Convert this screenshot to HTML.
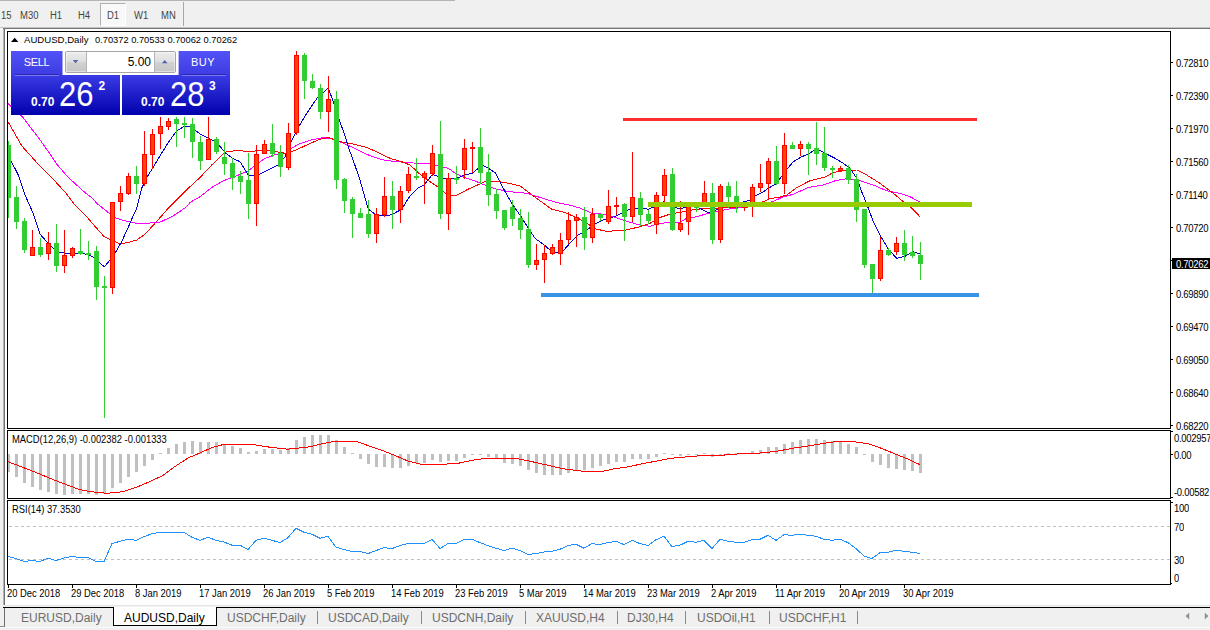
<!DOCTYPE html>
<html><head><meta charset="utf-8"><title>AUDUSD,Daily</title>
<style>
html,body{margin:0;padding:0;}
body{width:1210px;height:630px;overflow:hidden;background:#f0f0f0;position:relative;font-family:"Liberation Sans",sans-serif;color:#000;}
div{position:absolute;box-sizing:border-box;white-space:nowrap;}
svg{position:absolute;left:0;top:0;}
.ax{left:1176px;font-size:9.5px;letter-spacing:-0.3px;line-height:12px;height:12px;transform:scaleY(1.12);transform-origin:0 3px;}
.dt{top:587px;font-size:9.4px;line-height:12px;margin-left:-1px;transform:scaleY(1.15);transform-origin:0 3px;}
.tf{top:9px;font-size:9.5px;line-height:14px;color:#444;transform:scaleY(1.12);transform-origin:0 10px;}
.tab{top:610px;font-size:12px;line-height:16px;color:#6e6e6e;}
.tab.act{color:#000;}
.sep{top:611px;width:1px;height:13px;background:#8a8a8a;}
.big{top:73.500px;color:#fff;font-size:31px;line-height:36px;transform:scaleY(1.13);transform-origin:0 0;}
.pl{font-size:9.4px;line-height:12px;left:12px;transform:scaleY(1.15);transform-origin:0 3px;}
</style></head><body>
<!-- top toolbar -->
<div style="left:0;top:0;width:455px;height:1px;background:#b4b4b4"></div>
<div style="left:100px;top:3px;width:26px;height:23px;background:#f8f8f8;border-left:1px solid #b0b0b0;border-top:1px solid #b0b0b0;border-right:1px solid #fff;border-bottom:1px solid #fff"></div>
<div style="left:183px;top:2px;width:1px;height:24px;background:#a8a8a8"></div>
<div class="tf" style="left:1px">15</div><div class="tf" style="left:20px">M30</div><div class="tf" style="left:50px">H1</div><div class="tf" style="left:78px">H4</div><div class="tf" style="left:107px">D1</div><div class="tf" style="left:134px">W1</div><div class="tf" style="left:161px">MN</div>
<div style="left:0;top:27px;width:1210px;height:1px;background:#c4c4c4"></div>
<div style="left:3px;top:28px;width:1207px;height:1px;background:#747474"></div><div style="left:0;top:28px;width:3px;height:1px;background:#fafafa"></div>
<!-- window white area -->
<div style="left:5px;top:29px;width:1205px;height:576px;background:#fff"></div>
<div style="left:3px;top:29px;width:1px;height:576px;background:#b4b4b4"></div><div style="left:4px;top:28px;width:1px;height:577px;background:#707070"></div>
<div style="left:5px;top:605px;width:1205px;height:1px;background:#e6e6e6"></div>
<!-- panels borders -->
<div style="left:7px;top:31px;width:1164px;height:398px;border:1px solid #000"></div>
<div style="left:7px;top:430px;width:1164px;height:69px;border:1px solid #000"></div>
<div style="left:7px;top:500px;width:1164px;height:85px;border:1px solid #000"></div>
<svg width="1210" height="630" viewBox="0 0 1210 630">
<defs><clipPath id="c1"><rect x="8" y="32" width="1162" height="396"/></clipPath>
<clipPath id="c2"><rect x="8" y="431" width="1162" height="67"/></clipPath>
<clipPath id="c3"><rect x="8" y="501" width="1162" height="83"/></clipPath>
<linearGradient id="gb" x1="0" y1="0" x2="0" y2="1"><stop offset="0" stop-color="#3c3ce6"/><stop offset="1" stop-color="#0000ac"/></linearGradient>
<linearGradient id="gt" x1="0" y1="0" x2="0" y2="1"><stop offset="0" stop-color="#5252f6"/><stop offset="1" stop-color="#3c3ce2"/></linearGradient>
<linearGradient id="gs" x1="0" y1="0" x2="0" y2="1"><stop offset="0" stop-color="#ececec"/><stop offset="0.5" stop-color="#dedede"/><stop offset="0.5" stop-color="#d2d2d2"/><stop offset="1" stop-color="#c6c6c6"/></linearGradient>
</defs>
<g clip-path="url(#c1)"><polyline points="8,103.5 22.5,117 38.3,137.5 50,154 56.7,164 67.5,176.7 84,191.7 93.3,199 96.7,203.3 108.3,212.5 116.7,218.3 126.7,221.3 136.7,223.3 146.7,223.3 160,222.2 173.3,215.8 186.7,206.7 190,202.5 200,196.7 211.7,187.5 223.3,180.8 236.7,175.8 248.3,170.8 256.7,164.2 265,158.3 276.7,154.2 285.8,153.3 290,149.5 298.3,144.2 310,140.3 321.7,137.8 331.7,138.3 343.3,143.3 356.7,149.2 370,155.8 381.7,159.7 396.7,161.7 413.3,163 430,163.7 438.3,165.8 448.3,168.3 456.7,174.2 466.7,178.3 476.7,181.7 486.7,185.8 496.7,189.2 510,191.7 526.7,193.3 540,197.5 556.7,202.5 570,205.3 580,208 591.7,213.3 603.3,214.2 613.3,216.7 626.7,221.3 640,225 650,226.3 660,223.3 670,222.5 678.3,223 686.7,218.3 696.7,216.7 708.3,213.3 720,210.8 730,208.8 746.7,207.2 760,204 772.5,201.7 781.7,197.5 793.3,194.2 808.3,187.5 823.3,185 835,180.8 846.7,178.7 860,180.8 873.3,185 886.7,190.8 900,193.3 910,196.7 920,202" fill="none" stroke="#ff00ff" stroke-width="1" stroke-linejoin="round" shape-rendering="crispEdges"/><polyline points="8,121.7 21.7,145.8 36.7,162.5 51.7,177.5 66.7,194 75,205 86.7,216.7 96.7,228.3 104.2,236.7 110.8,240 120,243.8 128.3,242.5 136.7,240 145,234.2 155,223.3 166.7,210 180.8,195.5 190,186.7 200,177.5 211.7,165 225,152.2 238.3,150.3 248.3,151.7 256.7,150.8 265,149.7 276.7,151.7 285,153.3 291.7,151.7 298.3,149 306.7,145 320,139.2 328.3,137.5 340,141.7 350,143.3 366.7,147.5 378.3,152.5 390,158.3 401.7,161.7 410,165 420,174.2 430,181.7 440,188.3 448.3,195.8 455.8,195.5 470,188.3 485,181.7 496.7,181.2 508.3,183.3 520,185.8 530,193.3 540,200.8 551.7,209.2 563.3,212 571.7,215.5 578.3,218.3 586.7,223.3 596.7,229.2 606.7,231.3 625,230.3 640,226.7 650,223.3 660,217.5 670,214.2 683.3,211.7 696.7,209.2 710,208.3 720,208 736.7,207.2 750,204.5 763.3,201.7 770,198.5 778.3,197.5 786.7,195 796.7,187.5 810,180.8 825,177 833.3,172.5 843.3,170.8 856.7,170 866.7,175 880,183.3 893.3,193.3 903.3,201.7 906.7,203.3 920,216.7" fill="none" stroke="#ff0000" stroke-width="1" stroke-linejoin="round" shape-rendering="crispEdges"/><polyline points="8,156.7 11,160.8 18.3,175 25,195 33.3,213.5 40,234.2 48.3,243.3 54.2,249.2 59.2,252.5 66.7,253.3 78.3,253.3 86.7,254.2 94.2,257.5 100,263.3 104.5,266.7 110,260 115,253.3 121.7,241.7 130,223.3 134,214 136.7,208.3 141.7,188.3 146.7,177.5 152.5,168.3 160,155.8 168.3,142.5 176.7,130.8 185,126 191.7,126.7 195,130 200,134 208.3,138 216.7,142.3 225,152.5 232.5,158.3 240,161.7 248.3,175 256.7,175.5 265,171.7 278.3,165 285,156.7 290,144 298.3,127.5 306.7,113.3 317.5,97.5 328.3,88 334.2,104.2 339.2,120 344.5,134 348.3,147 352.5,158.3 360,180 368.3,209.2 375,214.2 383.3,215.8 390,215 393.3,213.8 401.7,209.2 410,195.8 417.5,188.3 424.2,185 432.5,174.2 438.3,176.7 446.7,179.2 455,178.8 465,175 472.5,173 478.3,168.3 483.3,165.8 488.3,168.3 495.8,173.3 504.2,190 512.5,204.5 521.2,216.8 528.3,228.3 535,238.3 544.2,245 550,250 554.2,252.5 561.7,252.5 568.3,245 576.7,236 586.7,230 595,224.2 603.3,220 616.7,215.8 625,211.7 631.7,208.3 641.7,208.3 648.3,209.2 656,206 663.3,201.7 670,205 676.7,208 683.3,208 692,206.5 700,208.3 708.3,212.5 715,210.8 720,207.5 730,205 740,203 750,200 756.7,195 763.3,192 768.3,188.3 776.7,183.3 785,171.7 793.3,161.7 801.7,156.7 808.3,154.2 816.7,148.7 825,153.3 835,158.3 843.3,163.3 850,168.3 856.7,178.3 861.7,191.7 866.7,204 873.3,221.7 880,235 888.3,249.2 896.7,258.3 905,256.3 913.3,251.7 920.3,254.2" fill="none" stroke="#0000d0" stroke-width="1" stroke-linejoin="round" shape-rendering="crispEdges"/><path d="M8.5 141V218M16.5 186V229M24.5 218V253M40.5 238V257M56.5 224V272M80.5 229V255M88.5 241V260M96.5 246V300M104.5 276V418M136.5 166V194M176.5 117V147M184.5 117V138M192.5 118V158M200.5 136V170M216.5 137V154M224.5 142V175M232.5 158V190M240.5 171V194M248.5 153V219M272.5 124V157M280.5 145V177M304.5 53V99M312.5 74V89M320.5 84V119M336.5 91V189M344.5 178V213M352.5 197V238M360.5 208V218M368.5 200V238M392.5 181V229M416.5 158V180M440.5 121V219M456.5 166V184M480.5 128V184M488.5 154V206M496.5 189V219M504.5 210V230M512.5 200V226M520.5 209V239M528.5 212V268M584.5 207V250M600.5 214V221M624.5 203V241M640.5 192V226M648.5 210V224M672.5 168V231M696.5 203V212M712.5 183V244M728.5 182V208M736.5 181V213M776.5 146V185M792.5 142V149M808.5 142V175M816.5 122V165M824.5 127V171M832.5 166V178M848.5 165V184M856.5 174V222M864.5 209V268M872.5 264V293M888.5 248V256M904.5 230V261M912.5 236V258M920.5 242V280" stroke="#32cd32" stroke-width="1" fill="none" shape-rendering="crispEdges"/><path d="M32.5 230V256M48.5 232V260M64.5 230V273M72.5 247V258M112.5 202V294M120.5 186V211M128.5 173V195M144.5 131V186M152.5 129V169M160.5 117V149M168.5 118V130M208.5 117V160M256.5 145V226M264.5 140V154M288.5 123V170M296.5 51V135M328.5 76V132M376.5 208V243M384.5 177V217M400.5 186V223M408.5 167V193M424.5 171V204M432.5 145V176M448.5 173V230M464.5 139V179M472.5 142V173M536.5 244V270M544.5 245V283M552.5 244V255M560.5 233V265M568.5 212V244M576.5 214V247M592.5 208V243M608.5 190V224M616.5 197V215M632.5 152V222M656.5 192V234M664.5 169V202M680.5 201V232M688.5 203V235M704.5 181V204M720.5 184V243M744.5 203V211M752.5 184V217M760.5 164V192M768.5 158V200M784.5 133V194M800.5 141V156M840.5 166V171M880.5 237V281M896.5 237V255" stroke="#ff0000" stroke-width="1" fill="none" shape-rendering="crispEdges"/><path d="M6 145h5v53h-5zM14 197h5v25h-5zM22 221h5v29h-5zM38 247h5v8h-5zM54 243h5v23h-5zM78 251h5v3h-5zM86 253h5v2h-5zM94 251h5v36h-5zM102 286h5v2h-5zM134 176h5v8h-5zM174 119h5v5h-5zM182 123h5v2h-5zM190 124h5v18h-5zM198 142h5v19h-5zM214 139h5v13h-5zM222 157h5v7h-5zM230 163h5v15h-5zM238 176h5v6h-5zM246 180h5v24h-5zM270 143h5v11h-5zM278 153h5v14h-5zM302 55h5v26h-5zM310 81h5v7h-5zM318 88h5v24h-5zM334 99h5v81h-5zM342 179h5v22h-5zM350 199h5v15h-5zM358 213h5v5h-5zM366 214h5v20h-5zM390 196h5v14h-5zM414 176h5v2h-5zM438 154h5v60h-5zM454 178h5v2h-5zM478 147h5v26h-5zM486 172h5v23h-5zM494 194h5v17h-5zM502 210h5v18h-5zM510 207h5v12h-5zM518 218h5v12h-5zM526 229h5v36h-5zM582 217h5v21h-5zM598 214h5v4h-5zM622 204h5v13h-5zM638 198h5v17h-5zM646 214h5v7h-5zM670 174h5v56h-5zM694 204h5v4h-5zM710 193h5v47h-5zM726 186h5v11h-5zM734 196h5v8h-5zM774 161h5v23h-5zM790 145h5v4h-5zM806 144h5v5h-5zM814 148h5v6h-5zM822 153h5v15h-5zM830 168h5v2h-5zM846 168h5v12h-5zM854 179h5v31h-5zM862 209h5v56h-5zM870 264h5v15h-5zM886 250h5v5h-5zM902 243h5v12h-5zM910 252h5v4h-5zM918 255h5v9h-5z" fill="#32cd32" shape-rendering="crispEdges"/><path d="M30.5 247.5h4v8h-4zM46.5 243.5h4v10h-4zM62.5 255.5h4v10h-4zM70.5 248.5h4v7h-4zM110.5 202.5h4v85h-4zM118.5 193.5h4v8h-4zM126.5 176.5h4v17h-4zM142.5 154.5h4v29h-4zM150.5 134.5h4v20h-4zM158.5 126.5h4v7h-4zM166.5 121.5h4v5h-4zM206.5 139.5h4v20h-4zM254.5 154.5h4v49h-4zM262.5 144.5h4v9h-4zM286.5 133.5h4v34h-4zM294.5 55.5h4v77h-4zM326.5 99.5h4v12h-4zM374.5 214.5h4v19h-4zM382.5 196.5h4v18h-4zM398.5 191.5h4v18h-4zM406.5 174.5h4v16h-4zM422.5 173.5h4v4h-4zM430.5 153.5h4v20h-4zM446.5 178.5h4v35h-4zM462.5 148.5h4v21h-4zM470.5 147.5h4v1h-4zM534.5 260.5h4v4h-4zM542.5 253.5h4v6h-4zM550.5 247.5h4v6h-4zM558.5 240.5h4v13h-4zM566.5 220.5h4v19h-4zM574.5 217.5h4v3h-4zM590.5 214.5h4v23h-4zM606.5 206.5h4v15h-4zM614.5 205.5h4v1h-4zM630.5 197.5h4v19h-4zM654.5 195.5h4v29h-4zM662.5 175.5h4v20h-4zM678.5 223.5h4v6h-4zM686.5 204.5h4v17h-4zM702.5 193.5h4v10h-4zM718.5 186.5h4v53h-4zM742.5 204.5h4v3h-4zM750.5 187.5h4v16h-4zM758.5 183.5h4v4h-4zM766.5 161.5h4v22h-4zM782.5 145.5h4v38h-4zM798.5 144.5h4v4h-4zM838.5 168.5h4v2h-4zM878.5 250.5h4v28h-4zM894.5 243.5h4v8h-4z" fill="#ff4500" stroke="#ff0000" stroke-width="1" shape-rendering="crispEdges"/><rect x="623" y="118" width="354" height="3" fill="#fc2f2f"/><rect x="648" y="202" width="324" height="5" fill="#99cc00"/><rect x="541" y="293" width="438" height="4" fill="#3a92e6"/></g>
<g clip-path="url(#c2)"><path d="M7 454h3v18h-3zM15 454h3v23h-3zM23 454h3v29h-3zM31 454h3v33h-3zM39 454h3v36h-3zM47 454h3v38h-3zM55 454h3v40h-3zM63 454h3v41h-3zM71 454h3v40h-3zM79 454h3v40h-3zM87 454h3v40h-3zM95 454h3v41h-3zM103 454h3v40h-3zM111 454h3v34h-3zM119 454h3v29h-3zM127 454h3v23h-3zM135 454h3v18h-3zM143 454h3v12h-3zM151 454h3v6h-3zM159 453h3v1h-3zM167 448h3v6h-3zM175 444h3v10h-3zM183 442h3v12h-3zM191 441h3v13h-3zM199 442h3v12h-3zM207 442h3v12h-3zM215 442h3v12h-3zM223 444h3v10h-3zM231 446h3v8h-3zM239 448h3v6h-3zM247 452h3v2h-3zM255 451h3v3h-3zM263 449h3v5h-3zM271 449h3v5h-3zM279 450h3v4h-3zM287 448h3v6h-3zM295 440h3v14h-3zM303 437h3v17h-3zM311 435h3v19h-3zM319 435h3v19h-3zM327 435h3v19h-3zM335 440h3v14h-3zM343 447h3v7h-3zM351 453h3v1h-3zM359 454h3v5h-3zM367 454h3v10h-3zM375 454h3v13h-3zM383 454h3v13h-3zM391 454h3v14h-3zM399 454h3v14h-3zM407 454h3v12h-3zM415 454h3v9h-3zM423 454h3v9h-3zM431 454h3v6h-3zM439 454h3v8h-3zM447 454h3v7h-3zM455 454h3v7h-3zM463 454h3v4h-3zM471 454h3v1h-3zM479 454h3v1h-3zM487 454h3v3h-3zM495 454h3v5h-3zM503 454h3v9h-3zM511 454h3v10h-3zM519 454h3v12h-3zM527 454h3v16h-3zM535 454h3v19h-3zM543 454h3v21h-3zM551 454h3v21h-3zM559 454h3v21h-3zM567 454h3v19h-3zM575 454h3v17h-3zM583 454h3v16h-3zM591 454h3v14h-3zM599 454h3v12h-3zM607 454h3v10h-3zM615 454h3v8h-3zM623 454h3v8h-3zM631 454h3v5h-3zM639 454h3v5h-3zM647 454h3v5h-3zM655 454h3v3h-3zM663 453h3v1h-3zM671 454h3v1h-3zM679 454h3v2h-3zM687 454h3v1h-3zM695 454h3v1h-3zM703 453h3v1h-3zM711 454h3v3h-3zM719 454h3v1h-3zM727 453h3v1h-3zM735 453h3v1h-3zM743 453h3v1h-3zM751 451h3v3h-3zM759 450h3v4h-3zM767 447h3v7h-3zM775 447h3v7h-3zM783 444h3v10h-3zM791 442h3v12h-3zM799 440h3v14h-3zM807 439h3v15h-3zM815 439h3v15h-3zM823 440h3v14h-3zM831 441h3v13h-3zM839 442h3v12h-3zM847 444h3v10h-3zM855 447h3v7h-3zM863 454h3v1h-3zM871 454h3v8h-3zM879 454h3v11h-3zM887 454h3v14h-3zM895 454h3v15h-3zM903 454h3v16h-3zM911 454h3v17h-3zM919 454h3v19h-3z" fill="#c0c0c0" shape-rendering="crispEdges"/><polyline points="7.9,461.7 23.8,467.7 39.7,474 55.6,480.6 71.4,486.5 79.4,489.5 87.3,491.1 97.2,492.5 105.2,493.1 115,492.9 125,491.1 136.9,487.1 148.8,482 162.7,475.6 174.6,466.7 188.5,457.8 200.4,452.8 212.3,447.4 224.2,444.3 251.8,444.3 269.7,447.2 287.5,449.2 297.5,448.2 309.4,446.8 321.3,443.9 333.2,441.5 357,441.5 368.9,445.9 384.8,451.4 396.7,456.2 408.6,461.3 420.5,464.1 442.3,464.3 458.2,463.3 471.9,460.3 485.8,458.4 515.6,458.4 527.5,460.7 539.4,463.3 551.3,466.1 563.2,468.7 575.1,470.3 583,471.3 602.9,471.3 614.8,468.7 628.7,466.7 642.5,463.7 658.4,460.7 670.3,458.4 682.2,457.2 694.1,456.4 701.9,455.4 723.7,455.2 727.7,454.2 747.5,453.8 763.4,452.8 779.3,450.8 795.2,447.8 809,445.9 822.9,443.5 836.8,441.5 852.7,441.5 868.6,443.9 878.5,447.2 892.4,452.8 906.3,458.4 920,464.7" fill="none" stroke="#ff0000" stroke-width="1" stroke-linejoin="round" shape-rendering="crispEdges"/></g>
<g clip-path="url(#c3)"><path d="M9 526.5H1170M9 559.5H1170" stroke="#c0c0c0" stroke-width="1" stroke-dasharray="3 3" shape-rendering="crispEdges" fill="none"/><polyline points="8,556.5 16,558.5 24,561.5 32,560.5 40,561.5 48,558 56,560.5 64,558 72,556.5 80,557.5 88,557.5 96,561.5 104,561.5 112,543.6 120,541.3 128,539.3 136,540.3 144,536.7 152,533.7 160,532.3 168,532.3 176,532.3 184,532.3 192,537.3 200,540.3 208,537.3 216,540.3 224,542 232,545.2 240,545.2 248,549.6 256,540.3 264,538.3 272,540.3 280,542.6 288,537.7 296,528.2 304,532.3 312,534.3 320,538.3 328,536.3 336,547.2 344,549.6 352,551.6 360,551.6 368,553.6 376,550.6 384,547.6 392,548.6 400,545.6 408,543.6 416,543.6 424,543.6 432,539.3 440,548.6 448,543.6 456,543.6 464,539.3 472,539.3 480,542.6 488,545.6 496,548.2 504,550.6 512,548.2 520,550.6 528,554.5 536,553.6 544,552 552,551.2 560,549.2 568,545.6 576,544.2 584,548.2 592,543.6 600,544.6 608,542.6 616,541.3 624,544.6 632,540.3 640,543.6 648,545.6 656,539.7 664,536.3 672,546.6 680,545.2 688,541.3 696,542.2 704,540.3 712,548.6 720,539.3 728,541.3 736,542.2 744,542.2 752,539.7 760,539.3 768,535.3 776,540.3 784,534.7 792,535.3 800,534.3 808,535.3 816,536.3 824,539.3 832,540.3 840,539.3 848,542.6 856,548.6 864,556.1 872,558.5 880,552.6 888,552.2 896,550.2 904,551.2 912,552.2 920,553.6" fill="none" stroke="#1e90ff" stroke-width="1" stroke-linejoin="round" shape-rendering="crispEdges"/></g>
<path d="M1171 62.5h2M1171 95.5h2M1171 128.5h2M1171 161.5h2M1171 194.5h2M1171 227.5h2M1171 293.5h2M1171 326.5h2M1171 359.5h2M1171 392.5h2M1171 425.5h2M1171 260.5h1M1171 431.5h2M1171 454.5h2M1171 497.5h2M1171 502.5h2M1171 583.5h1M8.5 585v3M72.5 585v3M136.5 585v3M200.5 585v3M264.5 585v3M328.5 585v3M392.5 585v3M456.5 585v3M520.5 585v3M584.5 585v3M648.5 585v3M712.5 585v3M776.5 585v3M840.5 585v3M904.5 585v3" stroke="#000" stroke-width="1" shape-rendering="crispEdges" fill="none"/>
<!-- one click trading panel -->
<rect x="11" y="51" width="51.500" height="24" fill="url(#gt)"/>
<rect x="178.600" y="51" width="51.400" height="24" fill="url(#gt)"/>
<rect x="11" y="75" width="109" height="40" fill="url(#gb)"/>
<rect x="122" y="75" width="108" height="40" fill="url(#gb)"/>
<rect x="15" y="74" width="44" height="1" fill="#2828b0"/><rect x="15" y="75" width="44" height="1" fill="#7676f2"/>
<rect x="182" y="74" width="44" height="1" fill="#2828b0"/><rect x="182" y="75" width="44" height="1" fill="#7676f2"/>
<rect x="65.500" y="51.500" width="110" height="21" rx="1.500" fill="#fff" stroke="#a6a6a6" stroke-width="1"/>
<rect x="66.500" y="52.500" width="19.500" height="19" fill="url(#gs)"/>
<rect x="155" y="52.500" width="19.500" height="19" fill="url(#gs)"/>
<rect x="86" y="52" width="1" height="20" fill="#b4b4b4"/><rect x="154" y="52" width="1" height="20" fill="#b4b4b4"/>
<path d="M72.800 60h5.500l-2.750 3.300z" fill="#5262b0"/>
<path d="M162 63.300h5.500l-2.750 -3.300z" fill="#5262b0"/>
<path d="M11 42h7.400l-3.700 -4.200z" fill="#000"/>
<!-- scroll arrows -->

</svg>
<div style="left:24px;top:34px;font-size:9.6px;line-height:12px;">AUDUSD,Daily</div><div style="left:95px;top:34px;font-size:9.3px;line-height:12px;">0.70372 0.70533 0.70062 0.70262</div>
<div style="left:11px;top:51px;width:51px;height:24px;text-align:center;color:#fff;font-size:11px;letter-spacing:-0.3px;line-height:23px;">SELL</div>
<div style="left:178px;top:51px;width:50px;height:24px;text-align:center;color:#fff;font-size:11px;letter-spacing:0.4px;line-height:23px;">BUY</div>
<div style="left:87px;top:51px;width:64px;height:22px;text-align:right;font-size:12px;line-height:22px;">5.00</div>
<div style="left:31px;top:95px;color:#fff;font-size:12px;font-weight:bold;line-height:14px;">0.70</div>
<div class="big" style="left:59px;">26</div>
<div style="left:98.500px;top:79.500px;color:#fff;font-size:12px;font-weight:bold;line-height:12px;transform:scaleY(1.08)">2</div>
<div style="left:141px;top:95px;color:#fff;font-size:12px;font-weight:bold;line-height:14px;">0.70</div>
<div class="big" style="left:170px;">28</div>
<div style="left:209px;top:79.500px;color:#fff;font-size:12px;font-weight:bold;line-height:12px;transform:scaleY(1.08)">3</div>
<div class="pl" style="top:433px">MACD(12,26,9) -0.002382 -0.001333</div>
<div class="pl" style="top:503px">RSI(14) 37.3530</div>
<!-- current price label -->
<div style="left:1172px;top:258px;width:38px;height:11px;background:#000;"></div><div class="ax" style="top:258px;color:#fff">0.70262</div>
<div class="ax" style="top:57px">0.72810</div><div class="ax" style="top:90px">0.72390</div><div class="ax" style="top:123px">0.71970</div><div class="ax" style="top:156px">0.71560</div><div class="ax" style="top:189px">0.71140</div><div class="ax" style="top:222px">0.70720</div><div class="ax" style="top:288px">0.69890</div><div class="ax" style="top:321px">0.69470</div><div class="ax" style="top:354px">0.69050</div><div class="ax" style="top:387px">0.68640</div><div class="ax" style="top:420px">0.68220</div><div class="ax" style="top:432px;left:1174px">0.002957</div><div class="ax" style="top:449px;left:1174px">0.00</div><div class="ax" style="top:486px;left:1174px">-0.00582</div><div class="ax" style="top:502px;left:1174px">100</div><div class="ax" style="top:521px;left:1174px">70</div><div class="ax" style="top:554px;left:1174px">30</div><div class="ax" style="top:572px;left:1174px">0</div><div class="dt" style="left:8px">20 Dec 2018</div><div class="dt" style="left:72px">29 Dec 2018</div><div class="dt" style="left:136px">8 Jan 2019</div><div class="dt" style="left:200px">17 Jan 2019</div><div class="dt" style="left:264px">26 Jan 2019</div><div class="dt" style="left:328px">5 Feb 2019</div><div class="dt" style="left:392px">14 Feb 2019</div><div class="dt" style="left:456px">23 Feb 2019</div><div class="dt" style="left:520px">5 Mar 2019</div><div class="dt" style="left:584px">14 Mar 2019</div><div class="dt" style="left:648px">23 Mar 2019</div><div class="dt" style="left:712px">2 Apr 2019</div><div class="dt" style="left:776px">11 Apr 2019</div><div class="dt" style="left:840px">20 Apr 2019</div><div class="dt" style="left:904px">30 Apr 2019</div>
<!-- bottom tab bar -->
<div style="left:0;top:608px;width:1210px;height:22px;background:#f0f0f0"></div>
<div style="left:0;top:627px;width:1210px;height:1px;background:#fafafa"></div>
<div style="left:3px;top:607px;width:1207px;height:1px;background:#000"></div>
<div style="left:4px;top:608px;width:1px;height:19px;background:#6e6e6e"></div>
<div style="left:0;top:626px;width:5px;height:1px;background:#8c8c8c"></div>
<div style="left:113px;top:607px;width:104px;height:19px;background:#fff;border:1px solid #000;border-top:none"></div>
<div class="tab" style="left:21px">EURUSD,Daily</div><div class="tab act" style="left:124px">AUDUSD,Daily</div><div class="tab" style="left:227px">USDCHF,Daily</div><div class="tab" style="left:328px">USDCAD,Daily</div><div class="tab" style="left:432px">USDCNH,Daily</div><div class="tab" style="left:536px">XAUUSD,H4</div><div class="tab" style="left:627px">DJ30,H4</div><div class="tab" style="left:697px">USDOil,H1</div><div class="tab" style="left:779px">USDCHF,H1</div><div class="sep" style="left:317px"></div><div class="sep" style="left:421px"></div><div class="sep" style="left:525px"></div><div class="sep" style="left:617px"></div><div class="sep" style="left:685px"></div><div class="sep" style="left:769px"></div><div class="sep" style="left:857px"></div>
<svg width="1210" height="630" viewBox="0 0 1210 630"><path d="M1189.200 612.800v6.600l-3.600 -3.300z" fill="#8e8e8e"/><path d="M1204.800 612.800v6.600l3.600 -3.300z" fill="#8e8e8e"/></svg>
</body></html>
